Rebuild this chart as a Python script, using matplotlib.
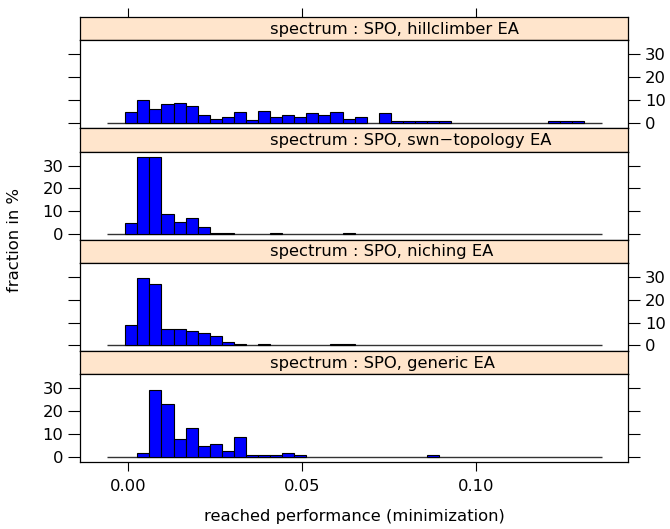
import numpy as np
import matplotlib.pyplot as plt

plt.rcParams['font.family'] = ['DejaVu Sans']

# histogram bins (shared by all panels)
bin_width = 0.003474
first_edge = -0.00087
n_bins = 38
base_lo, base_hi = -0.00605, 0.1363

panel_titles = [
    "spectrum : SPO, hillclimber EA",
    "spectrum : SPO, swn\u2212topology EA",
    "spectrum : SPO, niching EA",
    "spectrum : SPO, generic EA",
]

# fraction in % per bin index
hillclimber = {0: 4.9, 1: 10.1, 2: 6.0, 3: 8.1, 4: 8.8, 5: 7.4, 6: 3.4, 7: 1.9, 8: 2.6,
               9: 4.7, 10: 1.3, 11: 5.4, 12: 2.6, 13: 3.4, 14: 2.6, 15: 4.1, 16: 3.4,
               17: 4.9, 18: 1.9, 19: 2.6, 21: 4.1, 22: 0.7, 23: 0.7, 24: 0.7, 25: 0.7,
               26: 0.7, 35: 0.7, 36: 0.7, 37: 0.7}
swn = {0: 4.7, 1: 33.8, 2: 33.8, 3: 8.6, 4: 5.4, 5: 7.0, 6: 3.2, 7: 0.7, 8: 0.7,
       12: 0.7, 18: 0.7}
niching = {0: 8.8, 1: 29.4, 2: 26.9, 3: 7.0, 4: 7.1, 5: 6.4, 6: 5.5, 7: 3.9, 8: 1.5,
           9: 0.7, 11: 0.7, 17: 0.7, 18: 0.7}
generic = {1: 1.4, 2: 29.3, 3: 23.1, 4: 7.8, 5: 12.4, 6: 4.7, 7: 5.4, 8: 2.3, 9: 8.5,
           10: 0.7, 11: 0.7, 12: 0.7, 13: 1.6, 14: 0.7, 25: 0.7}
panel_data = [hillclimber, swn, niching, generic]

x_ticks = [0.0, 0.05, 0.10]
x_labels = ["0.00", "0.05", "0.10"]
y_ticks = [0, 10, 20, 30]

W, H = 670, 529
fig = plt.figure(figsize=(W / 100, H / 100), dpi=100)

left, right = 80, 628.3
top, bottom = 17, 462
block = (bottom - top) / 4
strip_h = 23.3
strip_text_x = 270
fs = 11.8

ymax = max(max(d.values()) for d in panel_data)
ylim = (-0.07 * ymax, 1.07 * ymax)
xlim = (-0.0139, 0.1439)

edges = first_edge + bin_width * np.arange(n_bins)

for i, (title, data) in enumerate(zip(panel_titles, panel_data)):
    y0 = top + i * block
    # strip
    sax = fig.add_axes([left / W, 1 - (y0 + strip_h) / H, (right - left) / W, strip_h / H])
    sax.set_facecolor("#FFE5CC")
    sax.set_xticks([])
    sax.set_yticks([])
    sax.text((strip_text_x - left) / (right - left), 0.47, title, ha="left", va="center",
             fontsize=fs, transform=sax.transAxes)
    for s in sax.spines.values():
        s.set_linewidth(0.9)
    # panel
    ax = fig.add_axes([left / W, 1 - (y0 + block) / H, (right - left) / W, (block - strip_h) / H])
    heights = np.array([data.get(k, 0.0) for k in range(n_bins)])
    mask = heights > 0
    ax.hlines(0, base_lo, base_hi, color="#333333", lw=1.0, zorder=1)
    ax.bar(edges[mask], heights[mask], width=bin_width, align="edge",
           color="#0000FF", edgecolor="black", linewidth=0.8, zorder=2)
    ax.set_xlim(*xlim)
    ax.set_ylim(*ylim)
    for s in ax.spines.values():
        s.set_linewidth(0.9)
    ax.set_yticks(y_ticks)
    ax.set_yticklabels([str(t) for t in y_ticks])
    labels_right = (i % 2 == 0)
    ax.tick_params(axis="y", direction="out", length=8.5, width=0.8, pad=3.5, labelsize=fs,
                   left=True, right=True, labelleft=not labels_right, labelright=labels_right)
    ax.set_xticks(x_ticks)
    if i == 0:
        ax.tick_params(axis="x", top=False, bottom=False, labeltop=False, labelbottom=False)
        # top ticks sit above the strip
        sax.set_xlim(*xlim)
        sax.set_xticks(x_ticks)
        sax.tick_params(axis="x", direction="out", length=6.5, width=0.8, top=True, bottom=False,
                        labeltop=False, labelbottom=False)
    elif i == 3:
        ax.set_xticklabels(x_labels)
        ax.tick_params(axis="x", direction="out", length=6.5, width=0.8, pad=6, labelsize=fs,
                       top=False, bottom=True)
    else:
        ax.tick_params(axis="x", bottom=False, top=False, labelbottom=False)

fig.text((left + right) / 2 / W, 1 - 517 / H, "reached performance (minimization)",
         ha="center", va="center", fontsize=fs)
fig.text(15 / W, 1 - 240 / H, "fraction in %", ha="center", va="center",
         rotation=90, fontsize=fs)

fig.savefig("out.png", dpi=100)
